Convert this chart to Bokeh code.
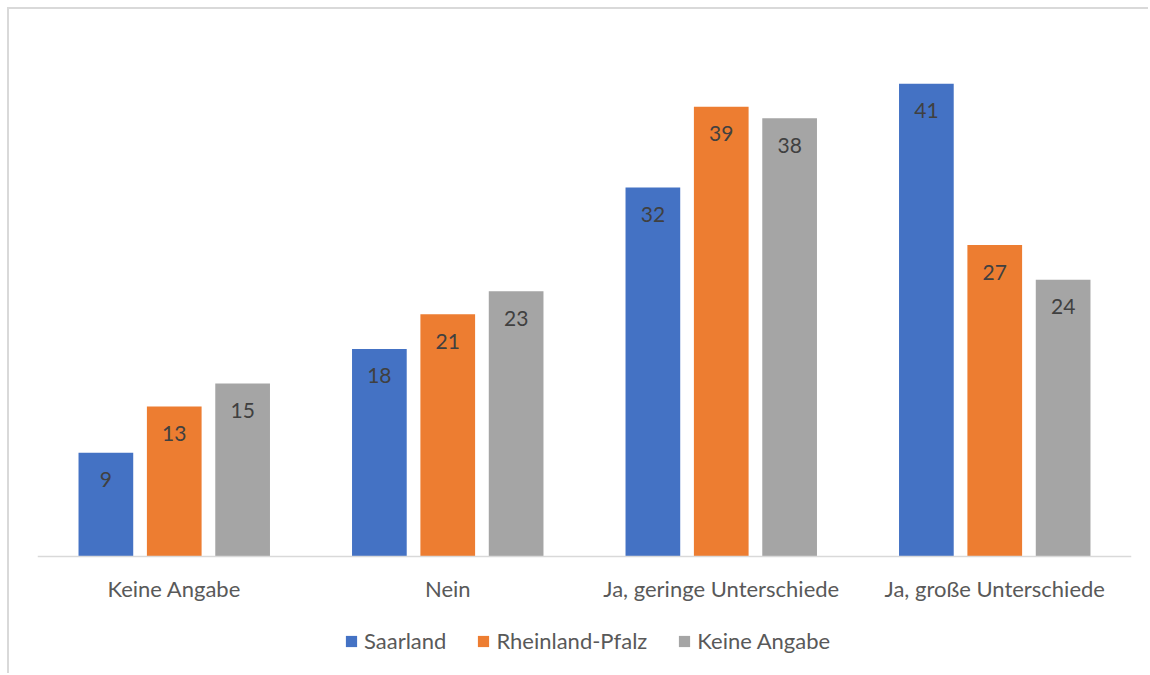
from bokeh.plotting import figure
from bokeh.models import ColumnDataSource, FactorRange, Legend, LegendItem
from bokeh.transform import dodge
from bokeh.core.properties import value
from bokeh.embed import file_html
from bokeh.resources import INLINE

# Survey answers per group
categories = ["Keine Angabe", "Nein", "Ja, geringe Unterschiede", "Ja, große Unterschiede"]
series_names = ["Saarland", "Rheinland-Pfalz", "Keine Angabe"]
saarland = [9, 18, 32, 41]
rheinland_pfalz = [13, 21, 39, 27]
keine_angabe = [15, 23, 38, 24]

colors = ["#4472C4", "#ED7D31", "#A5A5A5"]
offsets = [-0.25, 0.0, 0.25]
FONT = "Lato"

source = ColumnDataSource(dict(
    cat=categories,
    s0=saarland, s1=rheinland_pfalz, s2=keine_angabe,
    l0=[str(v) for v in saarland],
    l1=[str(v) for v in rheinland_pfalz],
    l2=[str(v) for v in keine_angabe],
))

# the plot area runs down to the bottom edge; the category axis sits at y = 0
# and the legend is placed in the space below it
p = figure(
    width=1141, height=666,
    x_range=FactorRange(*categories, range_padding=0),
    y_range=(-10.32, 45),
    output_backend="svg", toolbar_location=None,
    min_border_left=28, min_border_right=19,
    min_border_top=28, min_border_bottom=0,
)
# thin light frame on the top and left edge of the chart area
p.styles = {
    "margin-left": "7px", "margin-top": "7px",
    "border-left": "2px solid #D9D9D9", "border-top": "2px solid #D9D9D9",
}
p.outline_line_color = None
p.background_fill_color = "white"
p.border_fill_color = "white"
p.xgrid.grid_line_color = None
p.ygrid.grid_line_color = None
p.yaxis.visible = False

xa = p.xaxis[0]
xa.fixed_location = 0
xa.axis_line_color = "#D9D9D9"
xa.axis_line_width = 1.5
xa.major_tick_line_color = None
xa.minor_tick_line_color = None
xa.major_tick_out = 0
xa.major_tick_in = 0
xa.major_label_standoff = 19
xa.major_label_text_font = FONT
xa.major_label_text_font_size = "22px"
xa.major_label_text_color = "#595959"

renderers = []
for i, (key, lab) in enumerate([("s0", "l0"), ("s1", "l1"), ("s2", "l2")]):
    r = p.vbar(x=dodge("cat", offsets[i], range=p.x_range), top=key, width=0.2,
               source=source, fill_color=colors[i], line_color=None)
    renderers.append(r)
    p.text(x=dodge("cat", offsets[i], range=p.x_range), y=key, text=lab, source=source,
           text_align="center", text_baseline="middle", y_offset=27,
           text_font=value(FONT), text_font_size="21px", text_color="#404040")

legend = Legend(
    items=[LegendItem(label=n, renderers=[r]) for n, r in zip(series_names, renderers)],
    orientation="horizontal", location=(307, 21),
    border_line_color=None, background_fill_alpha=0,
    label_text_font=FONT, label_text_font_size="22px", label_text_color="#595959",
    glyph_width=14, glyph_height=14, label_standoff=6, spacing=30,
    padding=0, margin=0,
)
p.add_layout(legend, "center")

open("out.html", "w").write(file_html(p, INLINE))
